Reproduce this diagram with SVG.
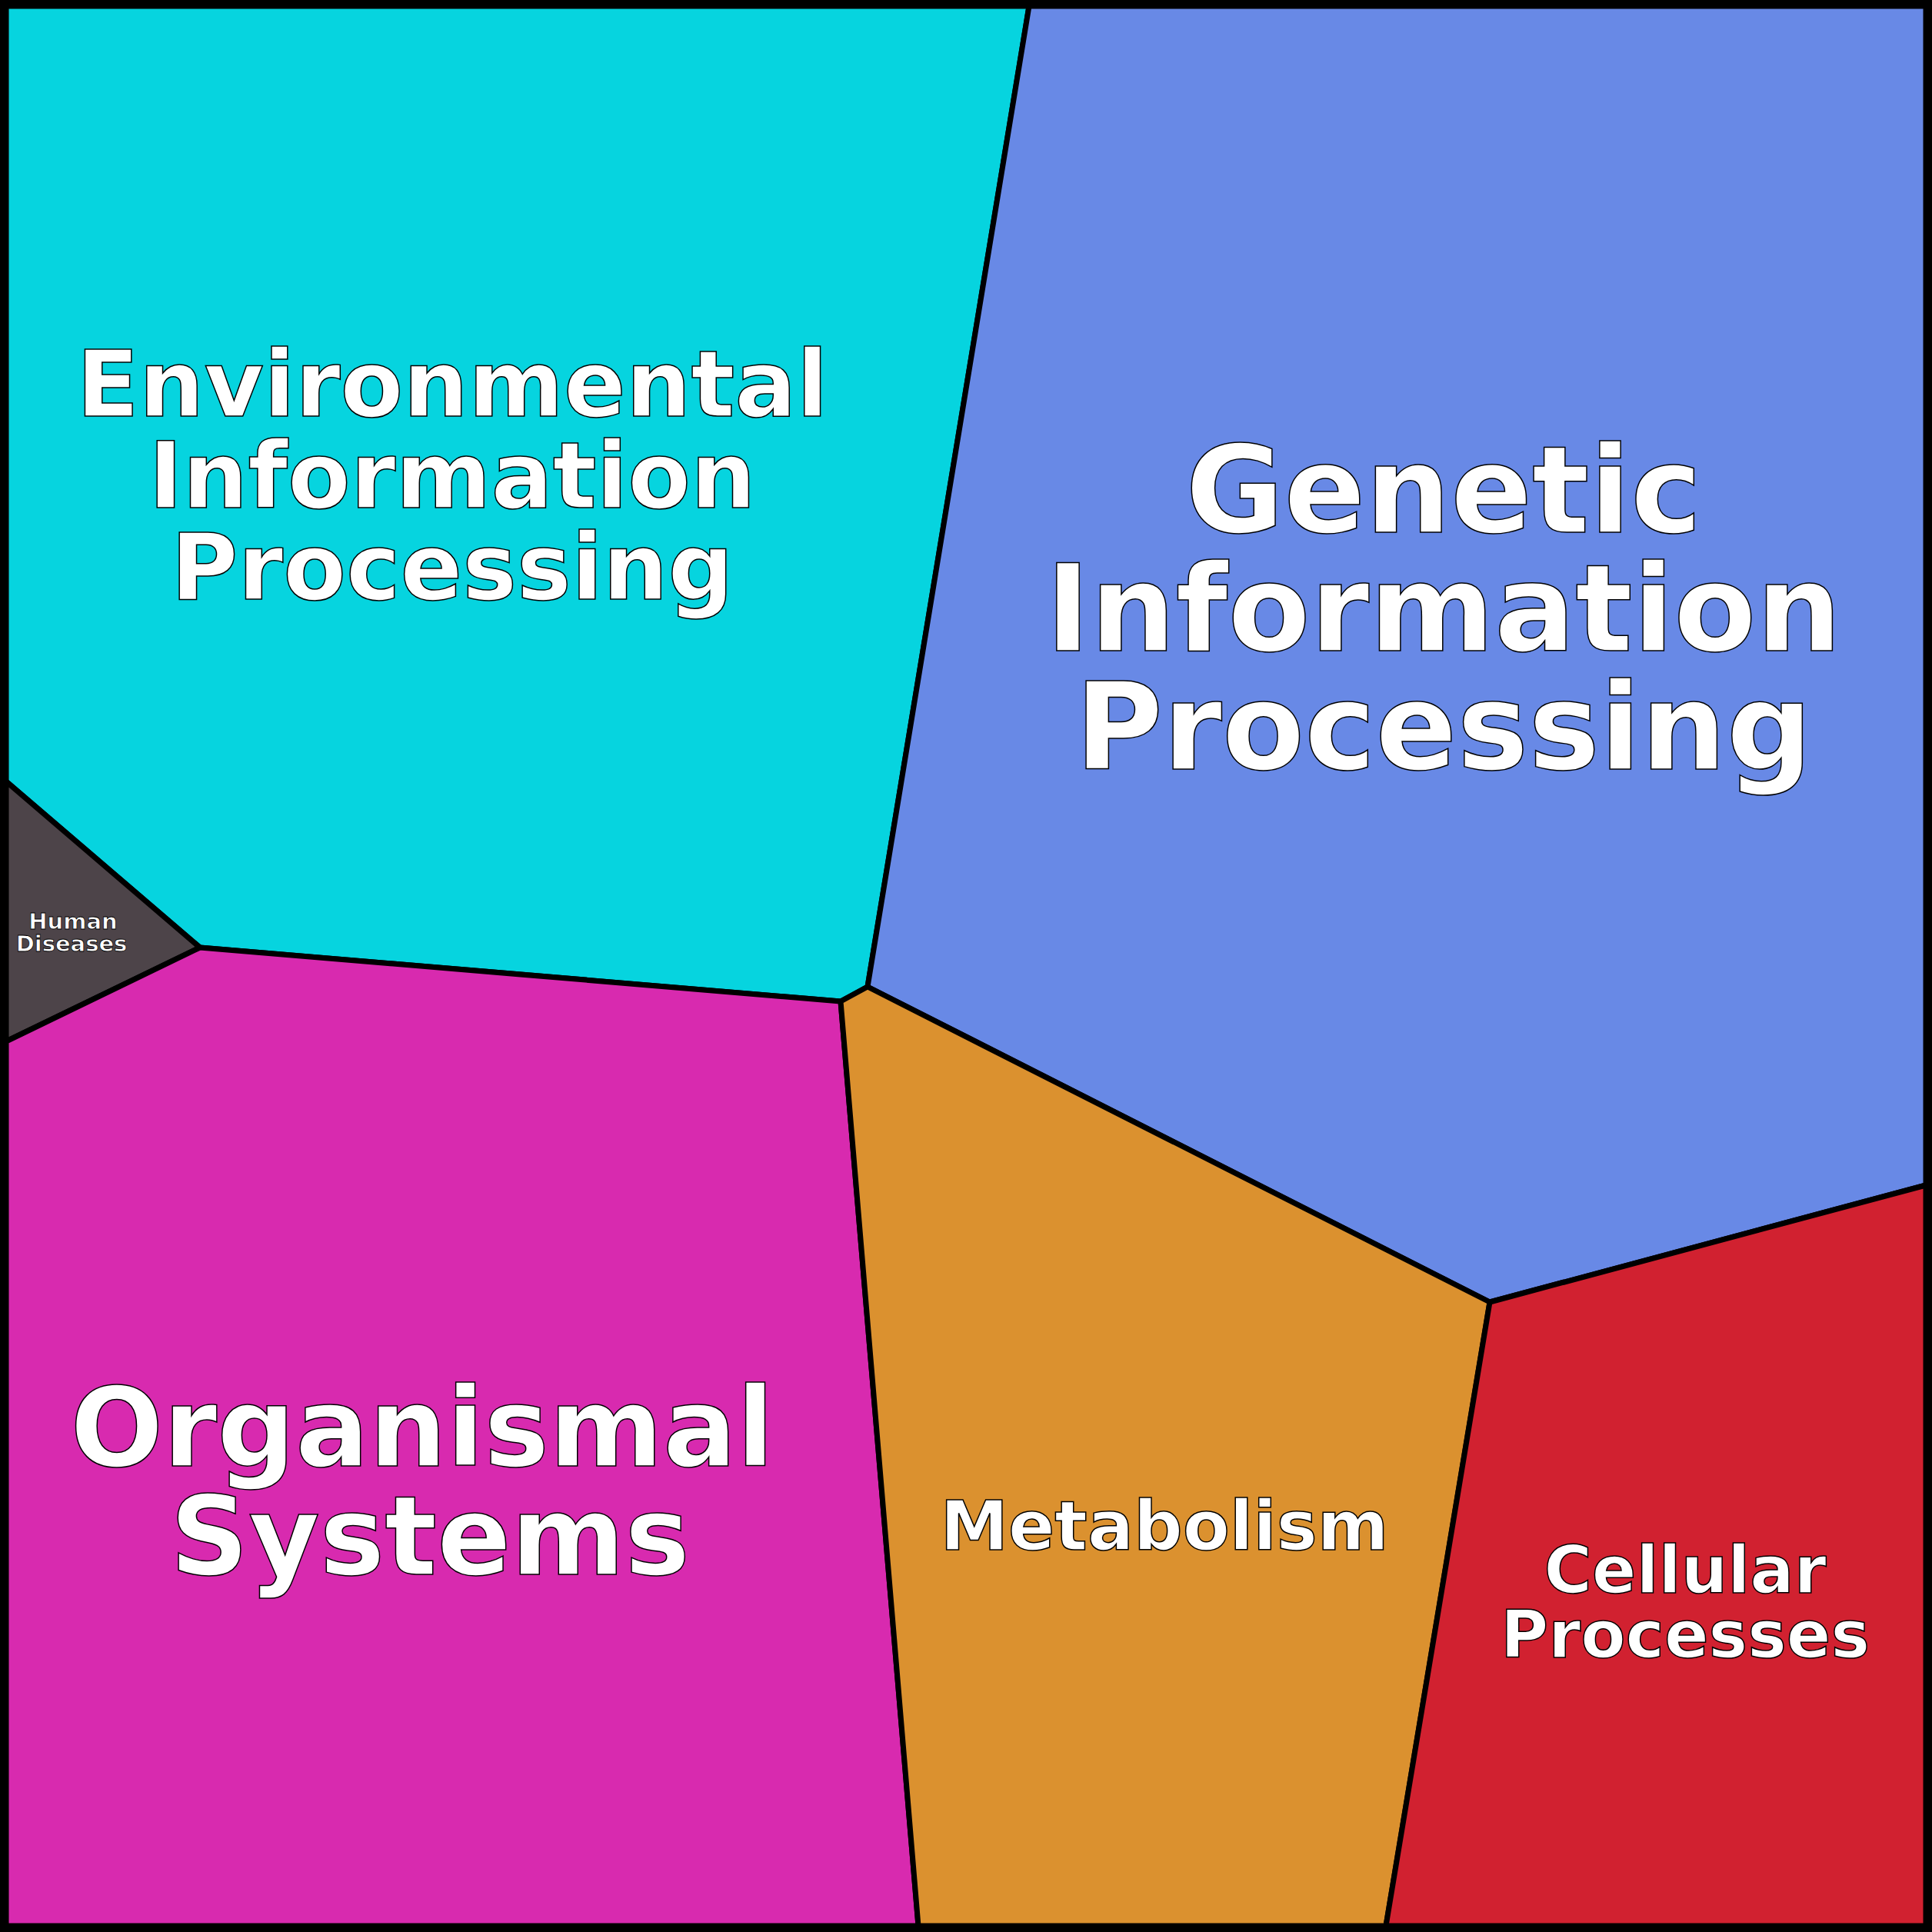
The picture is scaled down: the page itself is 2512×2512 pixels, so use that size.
<svg xmlns="http://www.w3.org/2000/svg" width="2512" height="2512" viewBox="0 0 2512 2512">
<style>
.r{stroke:#000;stroke-width:7;stroke-linejoin:round}
text{font-family:"DejaVu Sans",sans-serif;font-weight:bold;fill:#fff;stroke:#000;stroke-width:1.5;text-anchor:middle}
</style>
<g id="env"><polygon class="r" fill="#06d4df" points="8,8 1338,8 1128,1283 1093,1302 260,1232 8,1016"/>
<text font-size="119"><tspan x="588" y="541">Environmental</tspan><tspan x="588" y="660">Information</tspan><tspan x="588" y="779">Processing</tspan></text></g>
<g id="gen"><polygon class="r" fill="#6889e6" points="1338,8 2504,8 2504,1541 1937,1693 1128,1283"/>
<text font-size="156"><tspan x="1877" y="692">Genetic</tspan><tspan x="1877" y="846">Information</tspan><tspan x="1877" y="1000">Processing</tspan></text></g>
<g id="hd"><polygon class="r" fill="#4d4449" points="8,1016 260,1232 8,1354"/>
<text font-size="29" style="stroke-width:0.8"><tspan x="95" y="1208">Human</tspan><tspan x="93" y="1237">Diseases</tspan></text></g>
<g id="org"><polygon class="r" fill="#d82aaf" points="8,1354 260,1232 1093,1302 1194,2504 8,2504"/>
<text font-size="142"><tspan x="549" y="1906">Organismal</tspan><tspan x="559" y="2047">Systems</tspan></text></g>
<g id="met"><polygon class="r" fill="#db912f" points="1093,1302 1128,1283 1937,1693 1802,2504 1194,2504"/>
<text font-size="89" x="1514" y="2015">Metabolism</text></g>
<g id="cel"><polygon class="r" fill="#d12130" points="1937,1693 2504,1541 2504,2504 1802,2504"/>
<text font-size="85"><tspan x="2191" y="2071">Cellular</tspan><tspan x="2191" y="2155">Processes</tspan></text></g>
<g id="connectors"><rect x="5" y="5" width="2502" height="2502" fill="none" stroke="#000" stroke-width="10"/></g>
</svg>
